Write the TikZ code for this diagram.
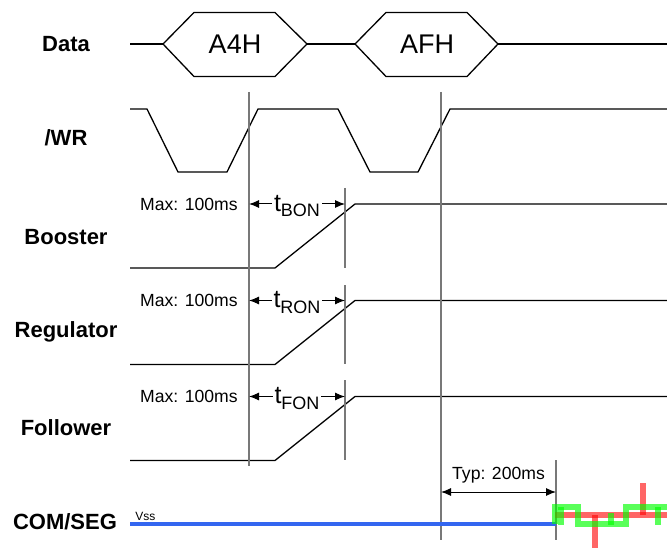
\documentclass[tikz,border=0pt]{standalone}
\usepackage{fontspec}
\setmainfont{Liberation Sans}
\usetikzlibrary{arrows.meta,positioning,calc}
\definecolor{vssblue}{RGB}{51,102,240}
\definecolor{guide}{RGB}{120,120,120}

\begin{document}
\begin{tikzpicture}[x=0.5pt, y=-0.5pt,
  sig/.style={font=\fontsize{11}{13}\selectfont\bfseries},
  note/.style={font=\fontsize{8.8}{10}\selectfont, inner sep=1pt},
  wave/.style={line width=0.65pt, black},
  guideline/.style={line width=0.75pt, guide},
  dim/.style={line width=0.5pt, {Latex[length=5pt,width=4pt]}-{Latex[length=5pt,width=4pt]}},
  tlabel/.style={fill=white, inner sep=1pt, font=\fontsize{12.5}{13}\selectfont}]
\useasboundingbox (0,0) rectangle (667,550);

% signal names
\node[sig] (data) at (66,44) {Data};
\node[sig] (wr) at (66,138) {/WR};
\node[sig] (boost) at (66,237) {Booster};
\node[sig] (reg) at (66,332) {Regulator};
\node[sig] (foll) at (66,428) {Follower};
\node[sig] (com) at (65,522) {COM/SEG};

% data bus
\draw[wave] (130,44) -- (163,44);
\draw[wave] (163,44) -- (194,12.5) -- (275,12.5) -- (307,44) -- (275,76.5) -- (194,76.5) -- cycle;
\draw[wave] (307,44) -- (355,44);
\draw[wave] (355,44) -- (386,12.5) -- (467,12.5) -- (498,44) -- (467,76.5) -- (386,76.5) -- cycle;
\draw[wave] (498,44) -- (667,44);
\node[font=\fontsize{13.5}{15}\selectfont] (a4h) at (235,44) {A4H};
\node[font=\fontsize{13.5}{15}\selectfont] (afh) at (427,44) {AFH};

% /WR
\draw[wave] (130,109) -- (147,109) -- (178,172) -- (227,172) -- (258,109) -- (338,109)
  -- (370,172) -- (418,172) -- (450,109) -- (667,109);

% supplies
\foreach \hi/\lo in {204/268, 300.5/364.5, 396.5/460.5}
  \draw[wave] (130,\lo) -- (275,\lo) -- (355,\hi) -- (667,\hi);

% guide lines
\draw[guideline] (249,92) -- (249,466);
\draw[guideline] (441,92) -- (441,540);
\draw[guideline] (345,188) -- (345,268);
\draw[guideline] (345,285) -- (345,364);
\draw[guideline] (345,380) -- (345,460);
\draw[guideline] (556,460) -- (556,540);

% on times
\coordinate (b1) at (249,204); \coordinate (b2) at (345,204);
\coordinate (r1) at (249,300.5); \coordinate (r2) at (345,300.5);
\coordinate (f1) at (249,396.5); \coordinate (f2) at (345,396.5);
\draw[dim] (b1) -- node[tlabel, yshift=-1pt] (tbon) {t\raisebox{-0.45ex}{\fontsize{9}{9}\selectfont BON}} (b2);
\draw[dim] (r1) -- node[tlabel, yshift=-1pt] (tron) {t\raisebox{-0.45ex}{\fontsize{9}{9}\selectfont RON}} (r2);
\draw[dim] (f1) -- node[tlabel, yshift=-1pt] (tfon) {t\raisebox{-0.45ex}{\fontsize{9}{9}\selectfont FON}} (f2);
\node[note, anchor=east] (maxb) at (240,204) {Max: 100ms};
\node[note, anchor=east] (maxr) at (240,300.5) {Max: 100ms};
\node[note, anchor=east] (maxf) at (240,396.5) {Max: 100ms};

% COM/SEG
\coordinate (t1) at (441,492); \coordinate (t2) at (556,492);
\draw[dim] (t1) -- (t2);
\node[note] (typ) at (498.5,475) {Typ: 200ms};
\draw[line width=2pt, vssblue] (130,524) -- (556,524);
\node[font=\fontsize{6}{7}\selectfont, anchor=west, inner sep=0pt] (vss) at (135,516) {Vss};
\draw[line width=2.6pt, red, opacity=0.6] (555,515) -- (667,515);
\draw[line width=2.6pt, red, opacity=0.6] (595,515) -- (595,548);
\draw[line width=2.6pt, red, opacity=0.6] (643,515) -- (643,483);
\draw[line width=2.6pt, green, opacity=0.65] (555,524) -- (555,507) -- (578,507) -- (578,524)
  -- (626,524) -- (626,507) -- (667,507);
\draw[line width=2.6pt, green, opacity=0.65] (561,507) -- (561,525);
\draw[line width=2.6pt, green, opacity=0.65] (611,513) -- (611,525);
\draw[line width=2.6pt, green, opacity=0.65] (658,507) -- (658,525);
\end{tikzpicture}
\end{document}
